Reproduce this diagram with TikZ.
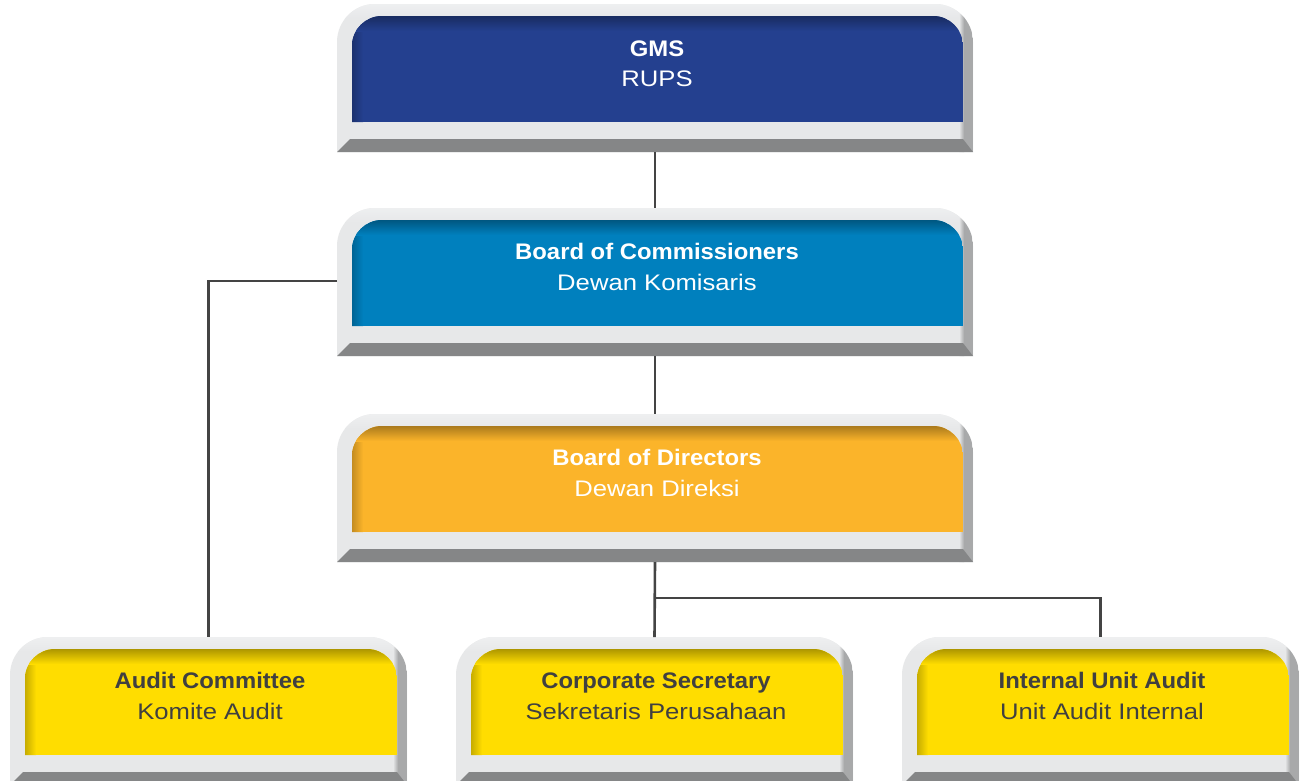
\documentclass[tikz,border=0pt]{standalone}
\usepackage{fontspec}
\newfontfamily\boldfnt[FakeStretch=1.06]{Liberation Sans Bold}
\newfontfamily\regfnt[FakeStretch=1.14]{Liberation Sans}
\definecolor{gmsblue}{RGB}{36,64,143}
\definecolor{bocblue}{RGB}{0,128,190}
\definecolor{bodorange}{RGB}{251,180,42}
\definecolor{unityellow}{RGB}{255,221,0}
\definecolor{darktext}{RGB}{64,64,64}
\definecolor{linegray}{RGB}{68,68,68}
\definecolor{framelight}{RGB}{231,232,233}
\definecolor{frametop}{RGB}{238,239,240}
\definecolor{framedark}{RGB}{133,134,135}
\definecolor{sidegray}{RGB}{168,169,170}
\newcommand\orgbox[5]{%
 \begin{scope}[shift={(#2,-#3)}]
  \fill[framelight] (0,-148) -- (0,-38) arc[start angle=180,end angle=90,radius=38] -- (#4-38,0) arc[start angle=90,end angle=0,radius=38] -- (#4,-148) -- cycle;
  \begin{scope}
   \clip (0,-148) -- (0,-38) arc[start angle=180,end angle=90,radius=38] -- (#4-38,0) arc[start angle=90,end angle=0,radius=38] -- (#4,-148) -- cycle;
   \shade[top color=frametop, bottom color=framelight] (0,0) rectangle (#4,-14);
   \shade[left color=framelight, right color=sidegray] (#4-14,-10) rectangle (#4-9,-148);
   \fill[sidegray] (#4-9.5,-10) rectangle (#4,-148);
  \end{scope}
  \fill[framedark] (0,-148) -- (13,-135) -- (#4-10,-135) -- (#4,-148) -- cycle;
  \begin{scope}
   \clip (15,-118) -- (15,-42) arc[start angle=180,end angle=90,radius=30] -- (#4-40,-12) arc[start angle=90,end angle=0,radius=30] -- (#4-10,-118) -- cycle;
   \fill[#5] (15,-118) rectangle (#4-10,-12);
   \shade[left color=#5!78!black, right color=#5] (15,-118) rectangle (26,-12);
   \shade[top color=#5!68!black, bottom color=#5] (15,-12) rectangle (#4-10,-27);
  \end{scope}
  \node[boxnode, minimum width=#4, minimum height=148] (#1) at (#4/2,-74) {};
 \end{scope}}
\tikzset{
 boxnode/.style={rectangle, inner sep=0pt, outer sep=0pt, draw=none},
 titletext/.style={anchor=base, inner sep=0pt, font=\boldfnt\fontsize{22.5}{27}\selectfont},
 subtext/.style={anchor=base, inner sep=0pt, font=\regfnt\fontsize{22.5}{27}\selectfont},
 conn/.style={draw=linegray, line width=2.6pt},
}
\begin{document}
\begin{tikzpicture}[x=1pt,y=1pt]
\useasboundingbox (0,0) rectangle (1303,-780);
\fill[white] (0,0) rectangle (1303,-780);
\orgbox{gms}{337}{4}{636}{gmsblue}
\orgbox{boc}{337}{208}{636}{bocblue}
\orgbox{bod}{337}{414}{636}{bodorange}
\orgbox{audit}{10}{637}{397}{unityellow}
\orgbox{csec}{456}{637}{397}{unityellow}
\orgbox{iua}{902}{637}{397}{unityellow}
\coordinate (bocleft) at (boc.west |- 0,-281);
\coordinate (branch) at (bod.south |- 0,-598);
\draw[conn] (gms.south) -- (boc.north);
\draw[conn] (boc.south) -- (bod.north);
\draw[conn] (bocleft) -| (audit.north);
\draw[conn] (bod.south) -- (csec.north);
\draw[conn] (branch) -| (iua.north);
% texts
\node[titletext, white] (gmsa) at (657,-56) {GMS};
\node[subtext, white] (gmsb) at (657,-86) {RUPS};
\node[titletext, white] (boca) at (657,-259) {Board of Commissioners};
\node[subtext, white] (bocb) at (657,-290) {Dewan Komisaris};
\node[titletext, white] (boda) at (657,-465) {Board of Directors};
\node[subtext, white] (bodb) at (657,-496) {Dewan Direksi};
\node[titletext, darktext] (audita) at (210,-688) {Audit Committee};
\node[subtext, darktext] (auditb) at (210,-719) {Komite Audit};
\node[titletext, darktext] (cseca) at (656,-688) {Corporate Secretary};
\node[subtext, darktext] (csecb) at (656,-719) {Sekretaris Perusahaan};
\node[titletext, darktext] (iuaa) at (1102,-688) {Internal Unit Audit};
\node[subtext, darktext] (iuab) at (1102,-719) {Unit Audit Internal};
\end{tikzpicture}
\end{document}
